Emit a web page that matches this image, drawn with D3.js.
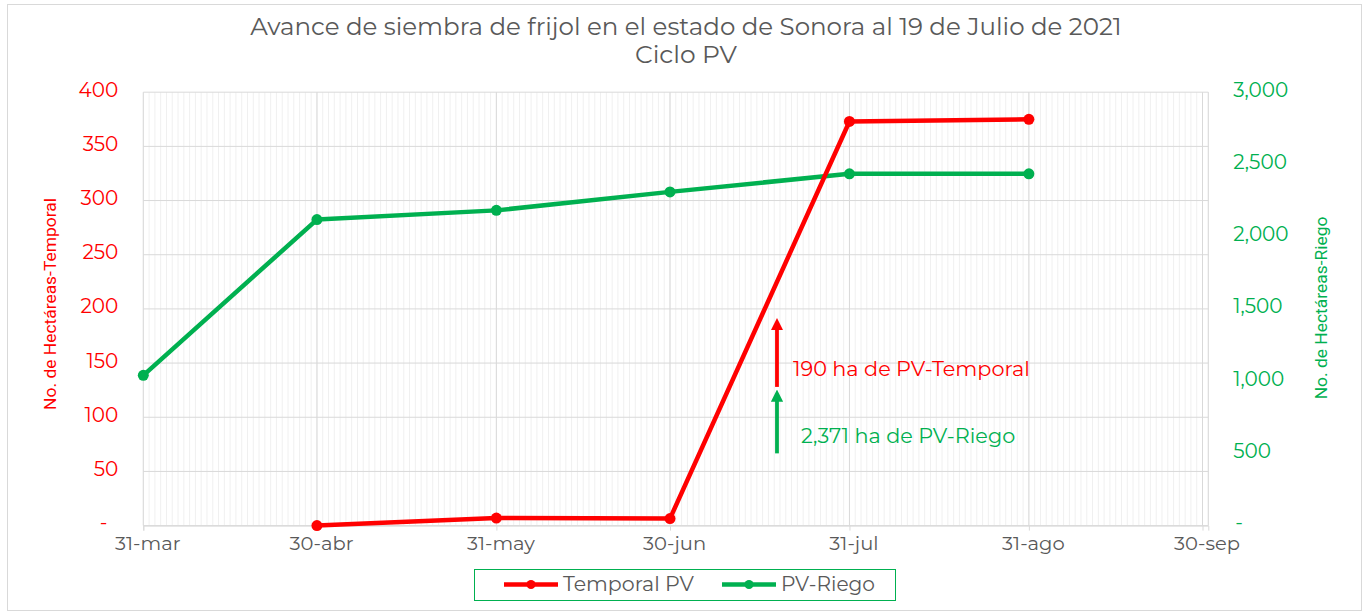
<!DOCTYPE html>
<html>
<head>
<meta charset="utf-8">
<script src="https://cdn.jsdelivr.net/npm/d3@7"></script>
<style>
  html, body { margin: 0; padding: 0; background: #ffffff; }
  svg { display: block; }
</style>
</head>
<body>
<svg id="chart" width="1370" height="613"></svg>
<script>
// ---------------- DATA ----------------
const titleLines = ["Avance de siembra de frijol en el estado de Sonora al 19 de Julio de 2021", "Ciclo PV"];
const xTickDates = ["2021-03-31", "2021-04-30", "2021-05-31", "2021-06-30", "2021-07-31", "2021-08-31", "2021-09-30"];
const xTickLabels = ["31-mar", "30-abr", "31-may", "30-jun", "31-jul", "31-ago", "30-sep"];
const xDomain = ["2021-03-31", "2021-10-01"];

const temporalDates = ["2021-04-30", "2021-05-31", "2021-06-30", "2021-07-31", "2021-08-31"];
const temporalValues = [0, 7, 6.5, 373, 375];

const riegoDates = ["2021-03-31", "2021-04-30", "2021-05-31", "2021-06-30", "2021-07-31", "2021-08-31"];
const riegoValues = [1040, 2118, 2182, 2310, 2435, 2435];

const leftTicks = [0, 50, 100, 150, 200, 250, 300, 350, 400];
const rightTicks = [0, 500, 1000, 1500, 2000, 2500, 3000];

const seriesNames = ["Temporal PV", "PV-Riego"];
const axisTitles = ["No. de Hectáreas-Temporal", "No. de Hectáreas-Riego"];

const annotTexts = ["190 ha de PV-Temporal", "2,371 ha de PV-Riego"];
const annotDate = "2021-07-19";
const annotRedFromTo = [128, 190];      // left-axis units
const annotGreenFromTo = [500, 930];    // right-axis units

// ---------------- SETUP ----------------
const RED = "#ff0000", GREEN = "#00b050", GRAY = "#595959";
const GRID = "#d9d9d9", MINOR = "#f0f0f0";
const FONT = "Montserrat, 'DejaVu Sans', 'Noto Sans', sans-serif";
const NARROW = "'Liberation Sans Narrow', 'Roboto', 'Liberation Sans', sans-serif";

const svg = d3.select("#chart");
const parse = d3.timeParse("%Y-%m-%d");

const plot = { left: 143.3, right: 1208.3, top: 92.2, bottom: 525.6 };

const x = d3.scaleTime().domain(xDomain.map(parse)).range([plot.left, plot.right]);
const yL = d3.scaleLinear().domain([0, 400]).range([plot.bottom, plot.top]);
const yR = d3.scaleLinear().domain([0, 3000]).range([plot.bottom, plot.top]);

function fit(sel, target) {
  const n = sel.node();
  const w = n.getComputedTextLength();
  const fs = parseFloat(sel.attr("font-size"));
  sel.attr("font-size", (fs * target / w).toFixed(2));
}

// outer border
svg.append("rect").attr("x", 7.5).attr("y", 4.5).attr("width", 1354).attr("height", 606)
  .attr("fill", "#fff").attr("stroke", GRID).attr("stroke-width", 1);

// title
const t1 = svg.append("text").attr("x", 686).attr("y", 35).attr("text-anchor", "middle")
  .attr("fill", GRAY).attr("font-family", FONT).attr("font-size", 19).text(titleLines[0]);
fit(t1, 872);
const t2 = svg.append("text").attr("x", 686).attr("y", 63).attr("text-anchor", "middle")
  .attr("fill", GRAY).attr("font-family", FONT).attr("font-size", t1.attr("font-size")).text(titleLines[1]);
fit(t2, 102);

// minor daily gridlines
const days = d3.timeDay.range(x.domain()[0], d3.timeDay.offset(x.domain()[1], 1));
svg.append("g").selectAll("line").data(days).join("line")
  .attr("x1", d => x(d)).attr("x2", d => x(d))
  .attr("y1", plot.top).attr("y2", plot.bottom)
  .attr("stroke", MINOR).attr("stroke-width", 1);

// horizontal gridlines
svg.append("g").selectAll("line").data(leftTicks).join("line")
  .attr("x1", plot.left).attr("x2", plot.right)
  .attr("y1", d => yL(d)).attr("y2", d => yL(d))
  .attr("stroke", GRID).attr("stroke-width", 1);

// major vertical gridlines
const majorDates = xTickDates.map(parse);
svg.append("g").selectAll("line").data(majorDates).join("line")
  .attr("x1", d => x(d)).attr("x2", d => x(d))
  .attr("y1", plot.top).attr("y2", plot.bottom)
  .attr("stroke", GRID).attr("stroke-width", 1);
svg.append("line").attr("x1", plot.right).attr("x2", plot.right)
  .attr("y1", plot.top).attr("y2", plot.bottom).attr("stroke", GRID);

// x axis
const xAxis = d3.axisBottom(x).tickValues(majorDates)
  .tickFormat((d, i) => xTickLabels[i]).tickSize(5).tickPadding(6);
const gx = svg.append("g").attr("transform", `translate(0,${plot.bottom})`).call(xAxis);
gx.select(".domain").attr("stroke", GRID);
gx.selectAll(".tick line").attr("stroke", GRID);
gx.selectAll(".tick text").attr("fill", GRAY).attr("font-family", FONT).attr("font-size", 19.5)
  .attr("dx", 4);

// left axis
const yAxisL = d3.axisLeft(yL).tickValues(leftTicks)
  .tickFormat(d => d === 0 ? "-" : d3.format(",")(d)).tickSize(0).tickPadding(25);
const gl = svg.append("g").attr("transform", `translate(${plot.left},0)`).call(yAxisL);
gl.select(".domain").remove();
gl.selectAll(".tick text").attr("fill", RED).attr("font-family", FONT).attr("font-size", 20)
  .attr("dx", d => d === 0 ? -11 : 0).attr("dy", d => d === 0 ? "0.15em" : "0.2em");

// right axis
const yAxisR = d3.axisRight(yR).tickValues(rightTicks)
  .tickFormat(d => d === 0 ? "-" : d3.format(",")(d)).tickSize(0).tickPadding(25);
const gr = svg.append("g").attr("transform", `translate(${plot.right},0)`).call(yAxisR);
gr.select(".domain").remove();
gr.selectAll(".tick text").attr("fill", GREEN).attr("font-family", FONT).attr("font-size", 20)
  .attr("dx", d => d === 0 ? 2 : 0).attr("dy", d => d === 0 ? "0.15em" : "0.2em");

// axis titles
const at1 = svg.append("text").attr("transform", "translate(56,304) rotate(-90)")
  .attr("text-anchor", "middle").attr("fill", RED).attr("font-family", NARROW)
  .attr("font-size", 18).text(axisTitles[0]);
fit(at1, 212);
const at2 = svg.append("text").attr("transform", "translate(1327,308) rotate(-90)")
  .attr("text-anchor", "middle").attr("fill", GREEN).attr("font-family", NARROW)
  .attr("font-size", at1.attr("font-size")).text(axisTitles[1]);

// series
const temporal = temporalDates.map((d, i) => ({ d: parse(d), v: temporalValues[i] }));
const riego = riegoDates.map((d, i) => ({ d: parse(d), v: riegoValues[i] }));

const lineL = d3.line().x(p => x(p.d)).y(p => yL(p.v));
const lineR = d3.line().x(p => x(p.d)).y(p => yR(p.v));

svg.append("path").datum(riego).attr("d", lineR).attr("fill", "none")
  .attr("stroke", GREEN).attr("stroke-width", 4.5).attr("stroke-linejoin", "round");
svg.append("g").selectAll("circle").data(riego).join("circle")
  .attr("cx", p => x(p.d)).attr("cy", p => yR(p.v)).attr("r", 5.5).attr("fill", GREEN);

svg.append("path").datum(temporal).attr("d", lineL).attr("fill", "none")
  .attr("stroke", RED).attr("stroke-width", 4.5).attr("stroke-linejoin", "round");
svg.append("g").selectAll("circle").data(temporal).join("circle")
  .attr("cx", p => x(p.d)).attr("cy", p => yL(p.v)).attr("r", 5.5).attr("fill", RED);

// annotations (arrows)
const defs = svg.append("defs");
[["arR", RED], ["arG", GREEN]].forEach(([id, c]) => {
  defs.append("marker").attr("id", id).attr("viewBox", "0 0 10 10")
    .attr("refX", 2).attr("refY", 5).attr("markerWidth", 3.2).attr("markerHeight", 3.4)
    .attr("markerUnits", "strokeWidth").attr("orient", "auto")
    .append("path").attr("d", "M0,0 L10,5 L0,10 z").attr("fill", c);
});
const ax = x(parse(annotDate)) - 3;
svg.append("line").attr("x1", ax).attr("x2", ax)
  .attr("y1", yL(annotRedFromTo[0])).attr("y2", yL(annotRedFromTo[1]) + 8)
  .attr("stroke", RED).attr("stroke-width", 3.8).attr("marker-end", "url(#arR)");
svg.append("line").attr("x1", ax).attr("x2", ax)
  .attr("y1", yR(annotGreenFromTo[0])).attr("y2", yR(annotGreenFromTo[1]) + 8)
  .attr("stroke", GREEN).attr("stroke-width", 3.8).attr("marker-end", "url(#arG)");

const a1 = svg.append("text").attr("x", 793).attr("y", 376).attr("fill", RED)
  .attr("font-family", FONT).attr("font-size", 16.5).text(annotTexts[0]);
fit(a1, 237);
const a2 = svg.append("text").attr("x", 801).attr("y", 443).attr("fill", GREEN)
  .attr("font-family", FONT).attr("font-size", a1.attr("font-size")).text(annotTexts[1]);

// legend
const lg = svg.append("g");
lg.append("rect").attr("x", 474.5).attr("y", 569.5).attr("width", 421).attr("height", 31)
  .attr("fill", "#fff").attr("stroke", GREEN).attr("stroke-width", 1);
const legendItems = [
  { name: seriesNames[0], color: RED, x0: 504, tx: 563, w: 131 },
  { name: seriesNames[1], color: GREEN, x0: 722, tx: 781, w: 94 }
];
legendItems.forEach(it => {
  lg.append("line").attr("x1", it.x0).attr("x2", it.x0 + 54).attr("y1", 584.5).attr("y2", 584.5)
    .attr("stroke", it.color).attr("stroke-width", 4.5);
  lg.append("circle").attr("cx", it.x0 + 27).attr("cy", 584.5).attr("r", 4.5).attr("fill", it.color);
  const tt = lg.append("text").attr("x", it.tx).attr("y", 591).attr("fill", GRAY)
    .attr("font-family", FONT).attr("font-size", 18).text(it.name);
  fit(tt, it.w);
});
</script>
</body>
</html>
